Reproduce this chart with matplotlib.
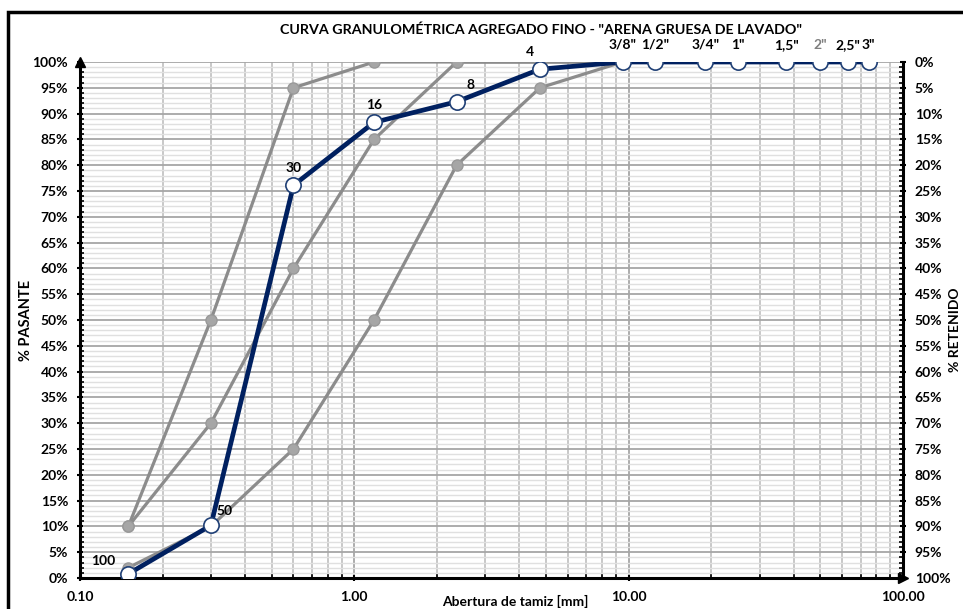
import matplotlib.pyplot as plt
import matplotlib.ticker as mticker
from matplotlib.patches import Rectangle

# datos de la curva granulometrica
tamices = ["100", "50", "30", "16", "8", "4", '3/8"', '1/2"', '3/4"', '1"', '1,5"', '2"', '2,5"', '3"']
abertura = [0.15, 0.30, 0.60, 1.18, 2.36, 4.75, 9.5, 12.5, 19.0, 25.0, 37.5, 50.0, 63.0, 75.0]
pasante = [0.8, 10.2, 76.1, 88.3, 92.3, 98.6, 100, 100, 100, 100, 100, 100, 100, 100]

# curvas limite (gris)
abertura_lim = [0.15, 0.30, 0.60, 1.18, 2.36, 4.75, 9.5]
lim_superior = [10, 50, 95, 100, 100, 100, 100]
lim_medio = [10, 30, 60, 85, 100, 100, 100]
lim_inferior = [2, 10, 25, 50, 80, 95, 100]

y_ticks = list(range(0, 101, 5))

plt.rcParams['font.family'] = ['Lato', 'DejaVu Sans']
plt.rcParams['font.weight'] = 'bold'

fig = plt.figure(figsize=(9.63, 6.09), dpi=100)
ax = fig.add_axes([80 / 963, 1 - 578 / 609, 823 / 963, 516 / 609])

gris = '#8c8c8c'
for lim in [lim_superior, lim_medio, lim_inferior]:
	ax.plot(abertura_lim, lim, color=gris, lw=2.3, marker='o', ms=8,
			mfc='#a6a6a6', mec='#999999', zorder=3)

azul = '#002060'
ax.plot(abertura, pasante, color=azul, lw=3.4, marker='o', ms=11,
		mfc='white', mec='#1f3f75', mew=1.2, zorder=5)

# etiquetas de tamices
offsets = {"100": (-18, 5), "50": (10, 6), "8": (10, 8), "4": (-7, 8)}
for t, xv, yv in zip(tamices, abertura, pasante):
	dx, dy = offsets.get(t, (0, 8))
	c = '#7f7f7f' if t == '2"' else 'black'
	ax.annotate(t, (xv, yv), xytext=(dx, dy), textcoords='offset points',
				ha='center', va='bottom', fontsize=10, fontweight='bold', color=c, zorder=6)

ax.set_xscale('log')
ax.set_xlim(0.1, 100)
ax.set_ylim(0, 100)
ax.xaxis.set_major_locator(mticker.FixedLocator([0.1, 1, 10, 100]))
ax.xaxis.set_major_formatter(mticker.FuncFormatter(lambda v, p: "%.2f" % v))
ax.xaxis.set_minor_locator(mticker.LogLocator(base=10, subs=range(2, 10)))
ax.xaxis.set_minor_formatter(mticker.NullFormatter())
ax.set_yticks(y_ticks)
ax.set_yticklabels([f"{v}%" for v in y_ticks])
ax.yaxis.set_minor_locator(mticker.MultipleLocator(1))

ax.grid(True, which='major', axis='both', color='#a6a6a6', lw=1.3)
ax.grid(True, which='minor', axis='x', color='#bfbfbf', lw=1.2)
ax.grid(True, which='minor', axis='y', color='#e0e0e0', lw=1.0)
ax.set_axisbelow(True)

for s in ['left', 'bottom', 'right']:
	ax.spines[s].set_linewidth(2.2)
	ax.spines[s].set_color('black')
ax.spines['top'].set_visible(False)

ax.tick_params(axis='both', which='major', labelsize=10, length=5, width=1.5, direction='inout', pad=6)
ax.tick_params(axis='both', which='minor', length=3, width=1.2, direction='in')
ax.tick_params(axis='x', pad=7)

ax.set_ylabel('% PASANTE', fontsize=10.5, fontweight='bold')
ax.yaxis.set_label_coords(-0.057, 0.5)

# eje secundario: % retenido
ax2 = ax.twinx()
ax2.set_ylim(100, 0)
ax2.set_yticks(y_ticks)
ax2.set_yticklabels([f"{v}%" for v in y_ticks])
ax2.yaxis.set_minor_locator(mticker.MultipleLocator(1))
ax2.tick_params(axis='y', which='major', labelsize=10, length=5, width=1.5, direction='inout', pad=6)
ax2.tick_params(axis='y', which='minor', length=3, width=1.2, direction='in')
for s in ax2.spines.values():
	s.set_visible(False)

# flechas de los ejes
ax.plot([0], [1], marker='^', color='black', ms=7, transform=ax.transAxes, clip_on=False, zorder=7)
ax.plot([1], [0], marker='>', color='black', ms=7, transform=ax.transAxes, clip_on=False, zorder=7)

fig.text(541 / 963, 1 - 30 / 609, 'CURVA GRANULOMÉTRICA AGREGADO FINO - "ARENA GRUESA DE LAVADO"',
		 ha='center', va='center', fontsize=10.3, fontweight='bold')
fig.text(515 / 963, 1 - 601 / 609, 'Abertura de tamiz [mm]', ha='center', va='center',
		 fontsize=10, fontweight='bold')
fig.text(949 / 963, 1 - 330 / 609, '% RETENIDO', rotation=90, ha='left', va='center',
		 fontsize=10, fontweight='bold')

# marco del grafico
fig.patches.append(Rectangle((8 / 963, -0.1), 1.2, 1 - 12 / 609 + 0.1, transform=fig.transFigure,
							 fill=False, ec='black', lw=2.5))

fig.savefig('out.png', dpi=100)
